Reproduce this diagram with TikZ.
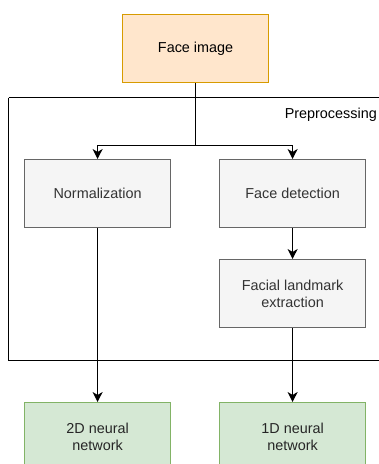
\documentclass[tikz,border=0pt]{standalone}
\usepackage{fontspec}
\setmainfont{Liberation Sans}
\usetikzlibrary{arrows.meta}
\definecolor{orangefill}{HTML}{FFE6CC}
\definecolor{orangeline}{HTML}{D79B00}
\definecolor{grayfill}{HTML}{F5F5F5}
\definecolor{grayline}{HTML}{666666}
\definecolor{graytext}{HTML}{333333}
\definecolor{greenfill}{HTML}{D5E8D4}
\definecolor{greenline}{HTML}{82B366}
\begin{document}
\begin{tikzpicture}[x=1pt,y=-1pt,
  font=\fontsize{14.4}{17}\selectfont,
  box/.style={draw, line width=1.2pt, minimum width=146pt, minimum height=68pt,
    inner sep=0pt, align=center, anchor=north west},
  inputbox/.style={box, fill=orangefill, draw=orangeline, text=black},
  stagebox/.style={box, fill=grayfill, draw=grayline, text=graytext},
  netbox/.style={box, fill=greenfill, draw=greenline, text=black!85},
  flow/.style={line width=1.3pt, -{Stealth[length=10pt,width=10pt,inset=3pt]}}]
\useasboundingbox (0,0) rectangle (379,464);
\clip (0,0) rectangle (379,464);

% preprocessing group frame
\draw[line width=1.2pt] (8.5,97.5) -- (400,97.5);
\draw[line width=1.2pt] (8.5,97.5) -- (8.5,360.5) -- (400,360.5);
\node[anchor=base east, inner sep=0pt] (grp) at (377,118) {Preprocessing};

% stages
\node[inputbox] (img) at (122,14) {Face image};
\node[stagebox] (norm) at (24,159) {Normalization};
\node[stagebox] (det) at (219,159) {Face detection};
\node[stagebox] (lmk) at (219,259) {Facial landmark\\extraction};
\node[netbox] (nn2) at (24,402) {2D neural\\network};
\node[netbox] (nn1) at (219,402) {1D neural\\network};

% connectors
\draw[line width=1.3pt] (img.south) -- ++(0,62) coordinate (fork);
\draw[flow] (fork) -| (norm.north);
\draw[flow] (fork) -| (det.north);
\draw[flow] (det.south) -- (lmk.north);
\draw[flow] (norm.south) -- (nn2.north);
\draw[flow] (lmk.south) -- (nn1.north);
\end{tikzpicture}
\end{document}
